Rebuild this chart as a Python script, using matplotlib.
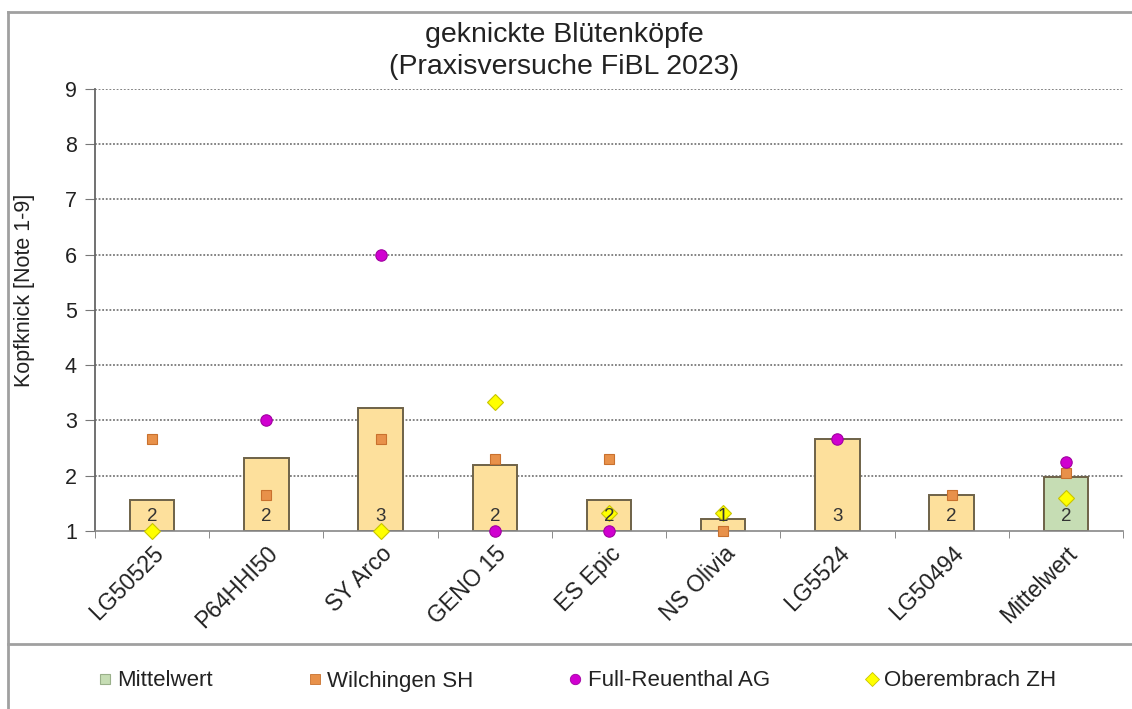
import numpy as np
import matplotlib
matplotlib.use("Agg")
import matplotlib.pyplot as plt
from matplotlib.lines import Line2D

plt.rcParams['font.family'] = ['Liberation Sans', 'DejaVu Sans']

categories = ['LG50525', 'P64HHI50', 'SY Arco', 'GENO 15', 'ES Epic',
              'NS Olivia', 'LG5524', 'LG50494', 'Mittelwert']
bar_values = [1.56, 2.32, 3.22, 2.20, 1.56, 1.22, 2.66, 1.66, 1.98]
wilchingen = [2.66, 1.65, 2.66, 2.31, 2.31, 1.0, np.nan, 1.66, 2.05]
full_reuenthal = [np.nan, 3.0, 6.0, 1.0, 1.0, np.nan, 2.67, np.nan, 2.25]
oberembrach = [1.0, np.nan, 1.0, 3.33, 1.33, 1.33, np.nan, np.nan, 1.6]
series_names = ['Mittelwert', 'Wilchingen SH', 'Full-Reuenthal AG', 'Oberembrach ZH']
title = 'geknickte Blütenköpfe\n(Praxisversuche FiBL 2023)'
ylabel = 'Kopfknick [Note 1-9]'
yticks = [1, 2, 3, 4, 5, 6, 7, 8, 9]

W, H = 1132, 709
fig = plt.figure(figsize=(W / 100, H / 100), dpi=100)
ax = fig.add_axes([95 / W, 1 - 531 / H, (1123 - 95) / W, (531 - 89) / H])

x = np.arange(len(categories))
bar_fill = ['#FDE09C'] * (len(categories) - 1) + ['#C6DDB4']
ax.bar(x, np.array(bar_values) - 1, bottom=1, width=0.39, color=bar_fill,
       edgecolor='#6E6248', linewidth=1.4, zorder=2)

ax.plot(x, wilchingen, 's', ms=7.2, mfc='#E8914A', mec='#C9712E', mew=0.8,
        linestyle='none', zorder=3, clip_on=False)
ax.plot(x, full_reuenthal, 'o', ms=8.2, mfc='#D000D0', mec='#A000A0', mew=0.8,
        linestyle='none', zorder=4, clip_on=False)
ax.plot(x, oberembrach, 'D', ms=8.5, mfc='#FFFF00', mec='#C8C400', mew=0.8,
        linestyle='none', zorder=5, clip_on=False)

for xi, v in zip(x, bar_values):
    ax.annotate(str(int(round(v))), xy=(xi, 1), xytext=(0, 10.5),
                textcoords='offset points', ha='center', va='center',
                fontsize=13.5, color='#333333', zorder=6)

ax.set_xlim(-0.5, len(categories) - 0.5)
ax.set_ylim(1, 9)
ax.set_yticks(yticks)
ax.set_yticklabels([str(t) for t in yticks], fontsize=15.5, color='#222222')
ax.set_xticks(x)
ax.set_xticklabels(categories, rotation=45, ha='right', rotation_mode='anchor',
                   fontsize=16.5, color='#222222')
ax.set_xticks(np.arange(len(categories) + 1) - 0.5, minor=True)
ax.tick_params(axis='x', which='major', length=0, pad=8)
ax.tick_params(axis='x', which='minor', length=5, direction='out', color='#777777')
ax.tick_params(axis='y', length=7, direction='out', color='#777777', pad=6)

for y in yticks[1:]:
    ax.axhline(y, color='#7A7A7A', linestyle=(0, (1, 1)), linewidth=1.3, zorder=1)

for side in ['top', 'right']:
    ax.spines[side].set_visible(False)
ax.spines['left'].set_color('#666666')
ax.spines['left'].set_linewidth(1.3)
ax.spines['bottom'].set_color('#888888')
ax.spines['bottom'].set_linewidth(1.2)

fig.text(564 / W, 1 - 51 / H, title, ha='center', va='center', fontsize=20.5,
         color='#222222', linespacing=1.25)
fig.text(25 / W, 1 - 290 / H, ylabel, rotation=90, ha='center', va='center',
         fontsize=15.5, color='#222222')

# chart frame and legend separator
frame_kw = dict(color='#A0A0A0', linewidth=2, transform=fig.transFigure)
fig.add_artist(Line2D([8 / W, 1], [1 - 12 / H, 1 - 12 / H], **frame_kw))
fig.add_artist(Line2D([8 / W, 8 / W], [0, 1 - 12 / H], **frame_kw))
fig.add_artist(Line2D([8 / W, 1], [1 - 644 / H, 1 - 644 / H], **frame_kw))

handles = [
    Line2D([], [], marker='s', linestyle='none', ms=7, mfc='#C6DDB4', mec='#9AB08A', mew=0.8),
    Line2D([], [], marker='s', linestyle='none', ms=6.5, mfc='#E8914A', mec='#C9712E', mew=0.6),
    Line2D([], [], marker='o', linestyle='none', ms=7.5, mfc='#D000D0', mec='#A000A0', mew=0.6),
    Line2D([], [], marker='D', linestyle='none', ms=7.5, mfc='#FFFF00', mec='#C8C400', mew=0.6),
]
fig.legend(handles, series_names, loc='center left', ncol=4,
           bbox_to_anchor=(99 / W, 1 - 681 / H), frameon=False, fontsize=16,
           handlelength=0.5, handletextpad=0.3, columnspacing=4.35,
           borderpad=0, borderaxespad=0, labelcolor='#222222')

fig.savefig('out.png', dpi=100)
